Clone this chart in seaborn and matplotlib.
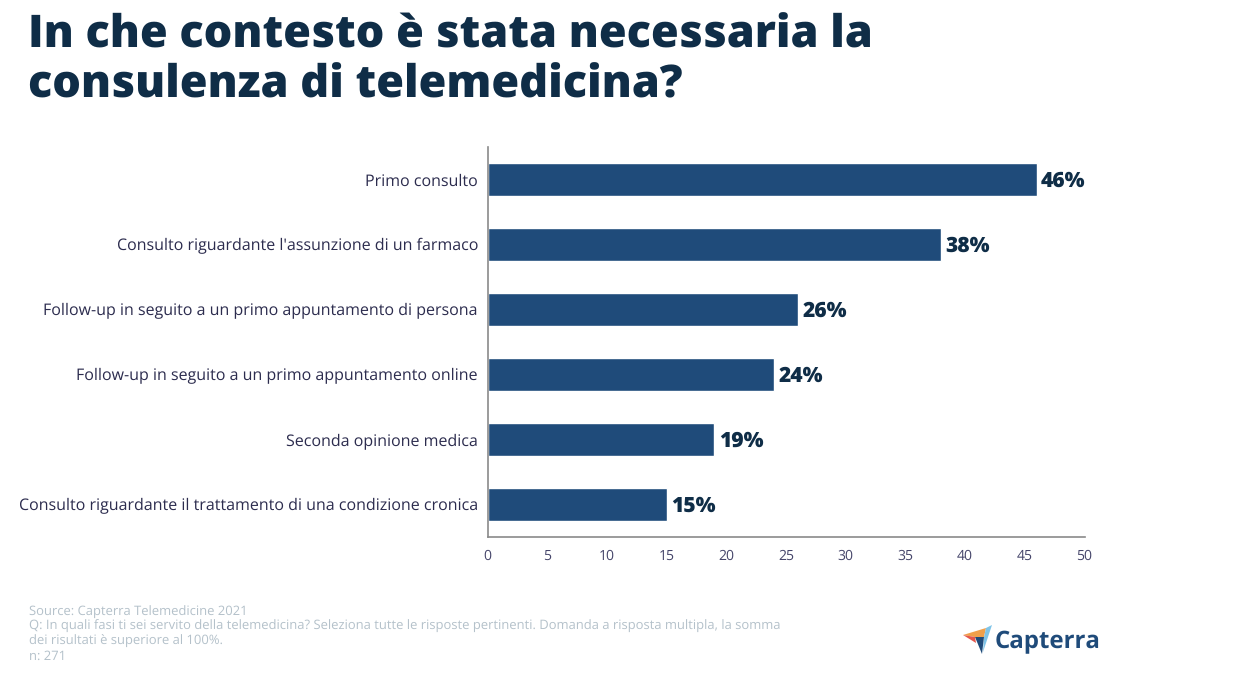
import matplotlib
matplotlib.use('Agg')
import matplotlib.pyplot as plt
from matplotlib.patches import Polygon
import pandas as pd
import seaborn as sns

W, H = 1248, 700

title = 'In che contesto è stata necessaria la\nconsulenza di telemedicina?'
categories = [
    'Primo consulto',
    "Consulto riguardante l'assunzione di un farmaco",
    'Follow-up in seguito a un primo appuntamento di persona',
    'Follow-up in seguito a un primo appuntamento online',
    'Seconda opinione medica',
    'Consulto riguardante il trattamento di una condizione cronica',
]
values = [46, 38, 26, 24, 19, 15]
x_ticks = [0, 5, 10, 15, 20, 25, 30, 35, 40, 45, 50]
source_lines = [
    'Source: Capterra Telemedicine 2021',
    'Q: In quali fasi ti sei servito della telemedicina? Seleziona tutte le risposte pertinenti. Domanda a risposta multipla, la somma',
    'dei risultati è superiore al 100%.',
    'n: 271',
]

NAVY = '#0f2d47'
BAR = '#1f4b7a'

sns.set_style('white')
plt.rcParams['font.family'] = ['Open Sans', 'DejaVu Sans']
plt.rcParams['text.hinting'] = 'no_hinting'
plt.rcParams['text.hinting_factor'] = 1

fig = plt.figure(figsize=(W / 100, H / 100), dpi=100)
ax = fig.add_axes([487.7 / W, 1 - 537 / H, (1084.5 - 487.7) / W, (537 - 147) / H])

df = pd.DataFrame({'category': categories, 'value': values})
sns.barplot(data=df, x='value', y='category', color=BAR, saturation=1, width=0.5, ax=ax)

ax.set_xlim(0, 50)
ax.set_ylim(5.5, -0.5)
ax.set_xlabel('')
ax.set_ylabel('')
ax.set_xticks(x_ticks)
ax.tick_params(axis='x', length=0, pad=8.5, labelsize=10, labelcolor='#45456a')
ax.tick_params(axis='y', length=0, pad=7, labelsize=11.45, labelcolor='#2c2c4e')
sns.despine(ax=ax)
for side in ['left', 'bottom']:
    ax.spines[side].set_color('#8a8a8a')
    ax.spines[side].set_linewidth(1.2)

for i, v in enumerate(values):
    ax.annotate(f'{v}%', (v, i), xytext=(3, -1.2), textcoords='offset points',
                va='center', ha='left', fontsize=15.3, fontweight='heavy', color=NAVY)

fig.text(28 / W, 1 - 13 / H, title, fontsize=32.3, fontweight='heavy', color=NAVY,
         va='top', ha='left', linespacing=1.14)

for line, y in zip(source_lines, [611.5, 626.5, 641.5, 656.5]):
    fig.text(29 / W, 1 - y / H, line, fontsize=9.47, color='#b4c1ca', va='center', ha='left')


# logo, pixel coordinates of the figure
def logo_poly(points, color):
    xy = [(px / W, 1 - py / H) for px, py in points]
    fig.add_artist(Polygon(xy, closed=True, transform=fig.transFigure, color=color, lw=0))


logo_poly([(963, 635), (986, 628), (984, 637), (975, 637)], '#f0a04b')
logo_poly([(992, 625), (986, 628), (984, 637), (983, 652)], '#7fc4e8')
logo_poly([(975, 637), (984, 637), (982, 654)], '#1f4b7a')
logo_poly([(963, 635), (975, 637), (976, 643)], '#e4574c')
fig.text(995 / W, 1 - 642 / H, 'Capterra', fontsize=17.4, fontweight='bold', color=BAR,
         va='center', ha='left')

fig.savefig('out.png', dpi=100)
